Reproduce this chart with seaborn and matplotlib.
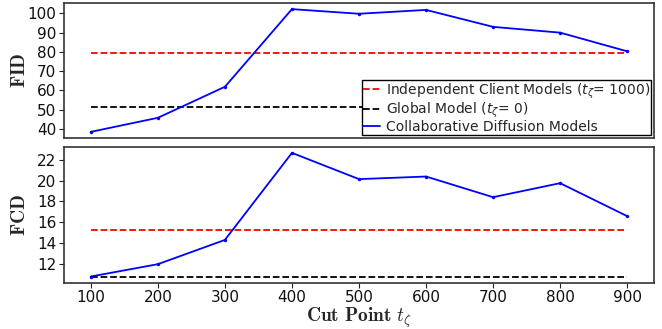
import numpy as np
import pandas as pd
import matplotlib
matplotlib.use('Agg')
import matplotlib.pyplot as plt
from matplotlib.font_manager import FontProperties
import seaborn as sns

# values
cut_points = [100, 200, 300, 400, 500, 600, 700, 800, 900]
fid_collab = [38.5, 45.8, 61.9, 102.2, 99.8, 101.8, 93.0, 90.0, 80.3]
fid_independent = 79.3
fid_global = 51.5
fcd_collab = [10.75, 11.94, 14.28, 22.67, 20.14, 20.39, 18.4, 19.75, 16.57]
fcd_independent = 15.26
fcd_global = 10.75

labels = ['Independent Client Models ($t_\\zeta$= 1000)',
          'Global Model ($t_\\zeta$= 0)',
          'Collaborative Diffusion Models']


def main():
    sns.set_style('ticks')
    plt.rcParams['font.family'] = ['DejaVu Sans']
    plt.rcParams['mathtext.fontset'] = 'cm'

    fig = plt.figure(figsize=(6.62, 3.29), dpi=100)
    W, H = 662, 329
    ax1 = fig.add_axes([64 / W, (H - 138) / H, 590 / W, 135 / H])
    ax2 = fig.add_axes([64 / W, (H - 282.7) / H, 590 / W, 136 / H], sharex=ax1)

    panels = [(ax1, fid_collab, fid_independent, fid_global, 'FID'),
              (ax2, fcd_collab, fcd_independent, fcd_global, 'FCD')]

    for ax, collab, indep, glob, name in panels:
        df = pd.DataFrame({'t': cut_points,
                           'indep': [indep] * len(cut_points),
                           'glob': [glob] * len(cut_points),
                           'collab': collab})
        sns.lineplot(data=df, x='t', y='indep', ax=ax, color='red',
                     linestyle='--', linewidth=1.3, label=labels[0])
        sns.lineplot(data=df, x='t', y='glob', ax=ax, color='black',
                     linestyle='--', linewidth=1.3, label=labels[1])
        sns.lineplot(data=df, x='t', y='collab', ax=ax, color='blue',
                     linewidth=1.3, marker='o', markersize=2.5,
                     markeredgewidth=0, label=labels[2])
        ax.set_ylabel('$\\mathbf{%s}$' % name, fontsize=14)
        ax.set_xlabel('')
        ax.tick_params(labelsize=11, length=3.5, width=0.8, colors='#222',
                       labelcolor='#111', pad=2)
        for sp in ax.spines.values():
            sp.set_visible(True)
            sp.set_linewidth(1.2)
            sp.set_color('#333')

    ax1.set_yticks([40, 50, 60, 70, 80, 90, 100])
    ax2.set_yticks([12, 14, 16, 18, 20, 22])
    ax2.set_xticks(cut_points)
    ax1.tick_params(axis='x', bottom=False, labelbottom=False)
    ax2.get_legend().remove()

    leg_font = FontProperties(family='DejaVu Sans', size=10,
                              math_fontfamily='dejavusans')
    leg = ax1.legend(loc='lower right', prop=leg_font, fancybox=False,
                     edgecolor='black', framealpha=1, labelspacing=0.0,
                     borderpad=0.1, handlelength=1.2, handletextpad=0.4,
                     borderaxespad=0.2)
    leg.get_frame().set_linewidth(1.0)
    for h in leg.legend_handles:
        h.set_marker('')

    ax2.set_xlabel('$\\mathbf{Cut\\ Point}\\ t_\\zeta$', fontsize=14, labelpad=0)
    ax1.yaxis.set_label_coords(-0.06, 0.5)
    ax2.yaxis.set_label_coords(-0.06, 0.5)

    fig.savefig('out.png', dpi=100)
    plt.close(fig)


if __name__ == '__main__':
    main()
